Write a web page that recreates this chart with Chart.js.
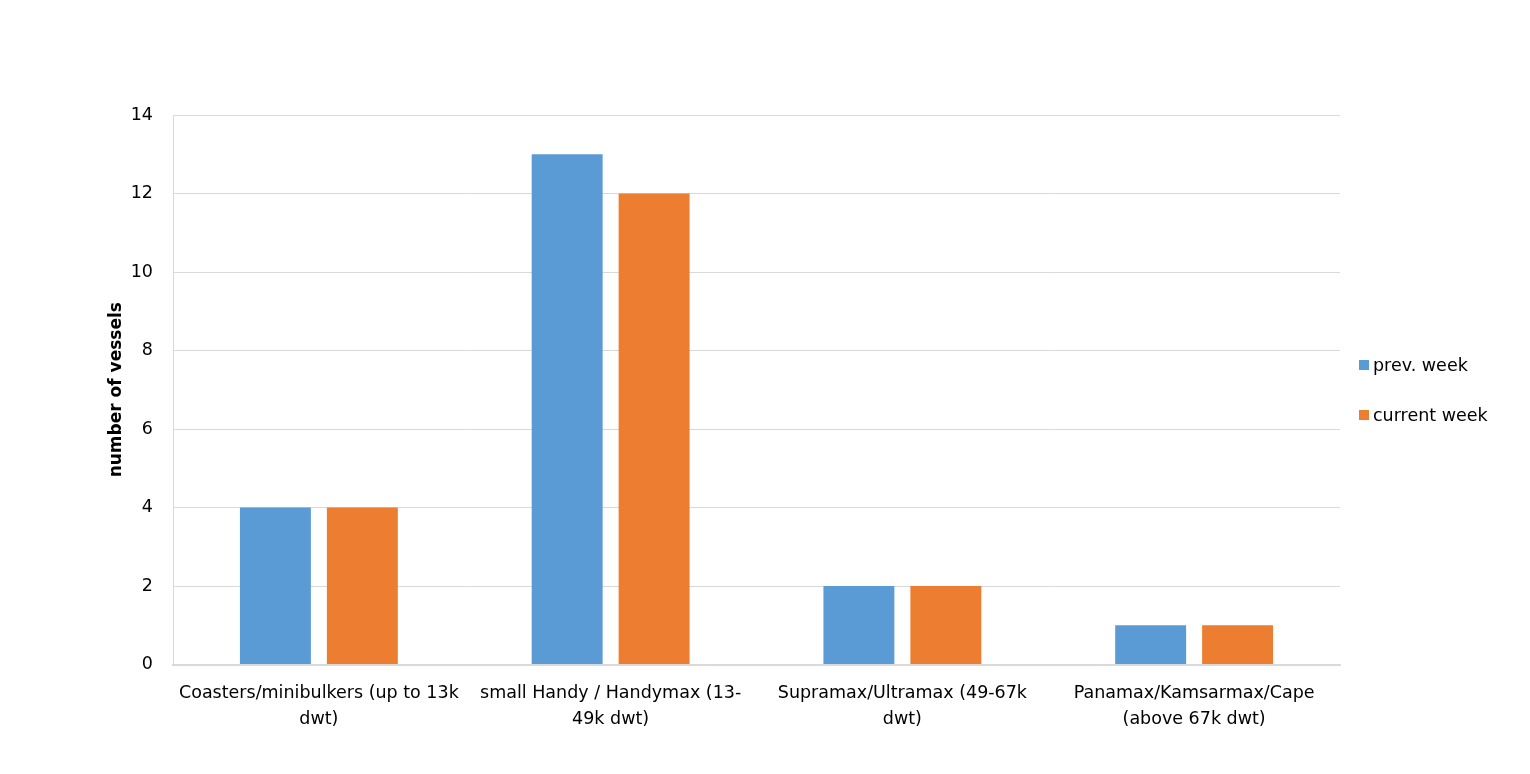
<!DOCTYPE html>
<html>
<head>
<meta charset="utf-8">
<script src="https://cdn.jsdelivr.net/npm/chart.js@4/dist/chart.umd.min.js"></script>
<style>
  html, body { margin: 0; padding: 0; background: #fff; }
  #wrap { width: 1530px; height: 774px; position: relative; }
  #legend { position: absolute; left: 1359px; top: 351px; font-family: 'DejaVu Sans', Verdana, sans-serif; font-size: 17.5px; color: #000; }
  .item { display: flex; align-items: center; height: 28px; margin-bottom: 22px; }
  .box { width: 10px; height: 10px; margin-right: 4px; }
</style>
</head>
<body>
<div id="wrap"><canvas id="chart" width="1530" height="774"></canvas><div id="legend"></div></div>
<script>
const categories = [
  ["Coasters/minibulkers (up to 13k", "dwt)"],
  ["small Handy / Handymax (13-", "49k dwt)"],
  ["Supramax/Ultramax (49-67k", "dwt)"],
  ["Panamax/Kamsarmax/Cape", "(above 67k dwt)"]
];
const prevWeek = [4, 13, 2, 1];
const currentWeek = [4, 12, 2, 1];
const seriesNames = ["prev. week", "current week"];
const seriesColors = ['#5b9bd5', '#ed7d31'];

const FONT = "'DejaVu Sans', Verdana, sans-serif";

// legend as plain html, so it can sit where the reference has it
document.getElementById('legend').innerHTML = seriesNames.map((name, i) =>
  `<div class="item"><span class="box" style="background:${seriesColors[i]}"></span>${name}</div>`
).join('');

new Chart(document.getElementById('chart'), {
  type: 'bar',
  data: {
    labels: categories,
    datasets: [
      { label: seriesNames[0], data: prevWeek, backgroundColor: seriesColors[0], borderWidth: 0, inflateAmount: 0 },
      { label: seriesNames[1], data: currentWeek, backgroundColor: seriesColors[1], borderWidth: 0, inflateAmount: 0 }
    ]
  },
  options: {
    responsive: false,
    animation: false,
    devicePixelRatio: 1,
    layout: { padding: { top: 115, left: 102, right: 190, bottom: 25 } },
    datasets: { bar: { categoryPercentage: 0.596, barPercentage: 0.816 } },
    plugins: {
      legend: { display: false },
      tooltip: { enabled: false }
    },
    scales: {
      x: {
        grid: { display: false, drawTicks: false },
        border: { color: '#d9d9d9', width: 2 },
        ticks: {
          color: '#000',
          padding: 16,
          maxRotation: 0,
          autoSkip: false,
          font: { family: FONT, size: 17.5, lineHeight: 1.5 }
        }
      },
      y: {
        min: 0,
        max: 14,
        afterFit: (scale) => { scale.width = 71; },
        ticks: {
          stepSize: 2,
          color: '#000',
          padding: 20,
          font: { family: FONT, size: 17.5 }
        },
        grid: { color: '#d9d9d9', drawTicks: false },
        border: { color: '#d9d9d9' },
        title: {
          display: true,
          text: 'number of vessels',
          color: '#000',
          font: { family: FONT, size: 17, weight: 'bold' },
          padding: { top: 4, bottom: 0 }
        }
      }
    }
  }
});
</script>
</body>
</html>
